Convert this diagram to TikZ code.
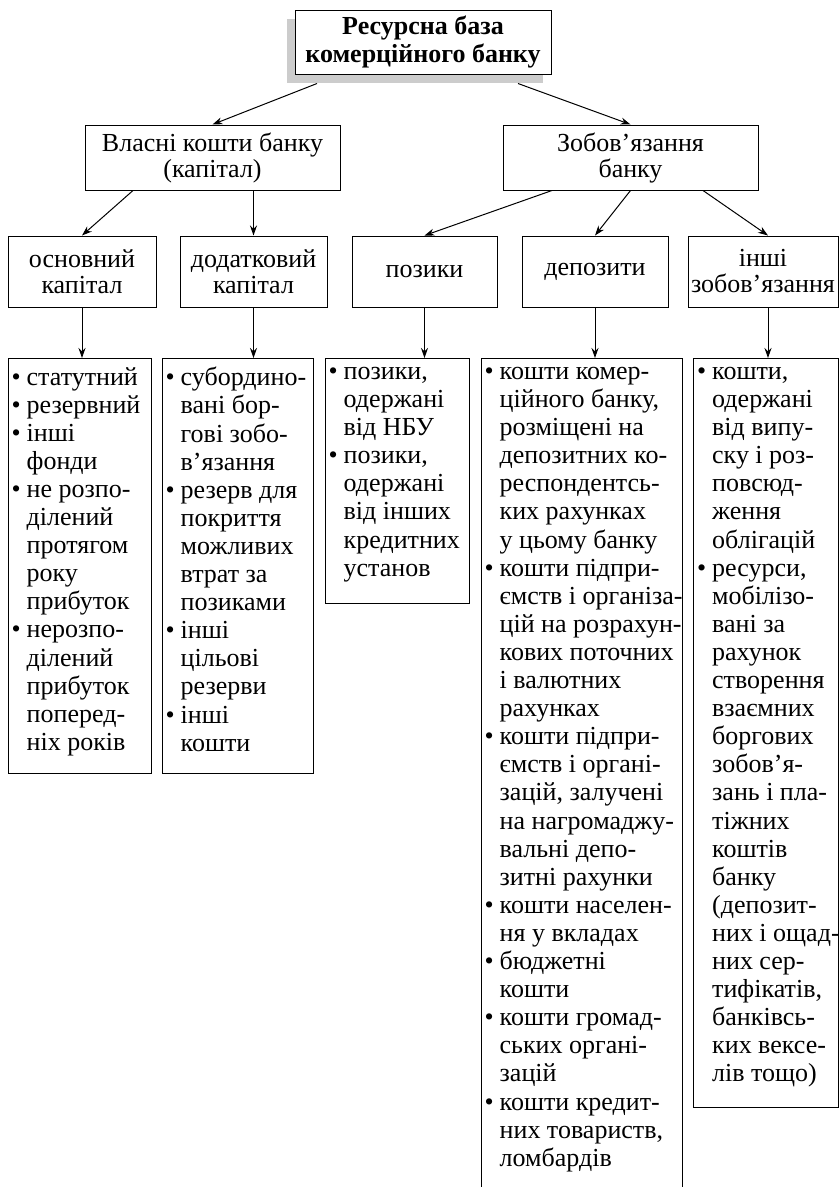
\documentclass[tikz,border=0pt]{standalone}
\usepackage{fontspec}
\setmainfont{Liberation Serif}
\usetikzlibrary{arrows.meta,shadows}

\newcommand{\bul}{\makebox[15pt][l]{\textbullet}}
\newcommand{\skp}{\hspace*{15pt}}

\begin{document}
\begin{tikzpicture}[
    x=1pt, y=-1pt,
    >={Stealth[length=10pt,width=7pt]},
    box/.style={draw, line width=1pt, inner sep=0pt, align=center,
        font=\fontsize{26}{26}\selectfont},
    frame/.style={draw, line width=1pt, inner sep=0pt, anchor=north},
    list/.style={anchor=north west, inner xsep=4pt, inner ysep=9pt,
        align=left, font=\fontsize{26}{28.1}\selectfont},
    link/.style={->, line width=1pt}
]

\useasboundingbox (0,0) rectangle (840,1187);

% Ресурсна база

\node[
    box,
    minimum width=256pt,
    minimum height=64pt,
    fill=white,
    font=\fontsize{26}{28}\selectfont\bfseries,
    drop shadow={shadow xshift=-8pt, shadow yshift=-9pt, fill=gray!40, opacity=1}
] (base) at (423,42) {Ресурсна база\\комерційного банку};


% Другий рівень

\node[box, minimum width=255pt, minimum height=65pt] (own) at (212.5,157.5)
    {Власні кошти банку\\(капітал)};
\node[box, minimum width=255pt, minimum height=65pt] (liab) at (630.5,157.5)
    {Зобов’язання\\банку};


% Третій рівень

\node[box, minimum width=148pt, minimum height=71pt] (basic) at (82,271.5)
    {основний\\капітал};
\node[box, minimum width=147pt, minimum height=71pt] (extra) at (253.5,271.5)
    {додатковий\\капітал};
\node[box, minimum width=145pt, minimum height=71pt] (loans) at (424.5,271.5)
    {позики};
\node[box, minimum width=146pt, minimum height=71pt] (deps) at (595,271.5)
    {депозити};
\node[box, minimum width=150pt, minimum height=71pt] (other) at (763,271.5)
    {інші\\зобов’язання};


% Переліки

\node[frame, minimum width=143pt, minimum height=415pt] (f1) at (79.5,358) {};
\node[list] (t1) at (f1.north west) {%
    \bul статутний\\
    \bul резервний\\
    \bul інші\\
    \skp фонди\\
    \bul не розпо-\\
    \skp ділений\\
    \skp протягом\\
    \skp року\\
    \skp прибуток\\
    \bul нерозпо-\\
    \skp ділений\\
    \skp прибуток\\
    \skp поперед-\\
    \skp ніх років};

\node[frame, minimum width=151pt, minimum height=415pt] (f2) at (237.5,358) {};
\node[list] (t2) at (f2.north west) {%
    \bul субордино-\\
    \skp вані бор-\\
    \skp гові зобо-\\
    \skp в’язання\\
    \bul резерв для\\
    \skp покриття\\
    \skp можливих\\
    \skp втрат за\\
    \skp позиками\\
    \bul інші\\
    \skp цільові\\
    \skp резерви\\
    \bul інші\\
    \skp кошти};

\node[frame, minimum width=144pt, minimum height=245pt] (f3) at (397,358) {};
\node[list] (t3) at (f3.north west) {%
    \bul позики,\\
    \skp одержані\\
    \skp від НБУ\\
    \bul позики,\\
    \skp одержані\\
    \skp від інших\\
    \skp кредитних\\
    \skp установ};

\node[frame, minimum width=201pt, minimum height=850pt] (f4) at (581.5,358) {};
\node[list] (t4) at (f4.north west) {%
    \bul кошти комер-\\
    \skp ційного банку,\\
    \skp розміщені на\\
    \skp депозитних ко-\\
    \skp респондентсь-\\
    \skp ких рахунках\\
    \skp у цьому банку\\
    \bul кошти підпри-\\
    \skp ємств і організа-\\
    \skp цій на розрахун-\\
    \skp кових поточних\\
    \skp і валютних\\
    \skp рахунках\\
    \bul кошти підпри-\\
    \skp ємств і органі-\\
    \skp зацій, залучені\\
    \skp на нагромаджу-\\
    \skp вальні депо-\\
    \skp зитні рахунки\\
    \bul кошти населен-\\
    \skp ня у вкладах\\
    \bul бюджетні\\
    \skp кошти\\
    \bul кошти громад-\\
    \skp ських органі-\\
    \skp зацій\\
    \bul кошти кредит-\\
    \skp них товариств,\\
    \skp ломбардів};

\node[frame, minimum width=145pt, minimum height=749pt] (f5) at (766,358) {};
\node[list] (t5) at (f5.north west) {%
    \bul кошти,\\
    \skp одержані\\
    \skp від випу-\\
    \skp ску і роз-\\
    \skp повсюд-\\
    \skp ження\\
    \skp облігацій\\
    \bul ресурси,\\
    \skp мобілізо-\\
    \skp вані за\\
    \skp рахунок\\
    \skp створення\\
    \skp взаємних\\
    \skp боргових\\
    \skp зобов’я-\\
    \skp зань і пла-\\
    \skp тіжних\\
    \skp коштів\\
    \skp банку\\
    \skp (депозит-\\
    \skp них і ощад-\\
    \skp них сер-\\
    \skp тифікатів,\\
    \skp банківсь-\\
    \skp ких вексе-\\
    \skp лів тощо)};


% Стрілки

\draw[link] ([xshift=-106pt,yshift=-9pt]base.south) -- (own.north);
\draw[link] ([xshift=95pt,yshift=-9pt]base.south) -- (liab.north);

\draw[link] ([xshift=-79.5pt]own.south) -- (basic.north);
\draw[link] (own.south -| extra.north) -- (extra.north);
\draw[link] ([xshift=-78.5pt]liab.south) -- (loans.north);
\draw[link] (liab.south) -- (deps.north);
\draw[link] ([xshift=72.5pt]liab.south) -- ([xshift=5pt]other.north);

\draw[link] (basic.south) -- (basic.south |- f1.north);
\draw[link] (extra.south) -- (extra.south |- f2.north);
\draw[link] (loans.south) -- (loans.south |- f3.north);
\draw[link] (deps.south) -- (deps.south |- f4.north);
\draw[link] ([xshift=5pt]other.south) -- ([xshift=5pt]other.south |- f5.north);

\end{tikzpicture}
\end{document}
